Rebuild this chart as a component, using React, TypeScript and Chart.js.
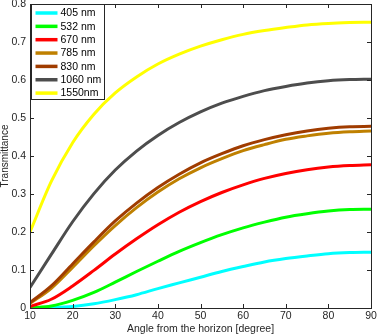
import React, { useEffect, useRef } from "react";
import { Chart, registerables } from "chart.js";

Chart.register(...registerables);

const angles = [10, 15, 20, 25, 30, 35, 40, 45, 50, 55, 60, 65, 70, 75, 80, 85, 90];

const labels405 = "405 nm";
const labels532 = "532 nm";
const labels670 = "670 nm";
const labels785 = "785 nm";
const labels830 = "830 nm";
const labels1060 = "1060 nm";
const labels1550 = "1550nm";

const t405 = [0.0, 0.001, 0.004, 0.011, 0.022, 0.035, 0.051, 0.066, 0.081, 0.096, 0.109, 0.121, 0.13, 0.137, 0.143, 0.146, 0.147];
const t532 = [0.0, 0.005, 0.02, 0.041, 0.068, 0.096, 0.123, 0.149, 0.172, 0.193, 0.211, 0.226, 0.239, 0.248, 0.255, 0.259, 0.26];
const t670 = [0.004, 0.023, 0.058, 0.099, 0.142, 0.182, 0.219, 0.252, 0.28, 0.304, 0.324, 0.341, 0.354, 0.364, 0.371, 0.375, 0.377];
const t785 = [0.012, 0.052, 0.107, 0.164, 0.217, 0.264, 0.305, 0.34, 0.369, 0.393, 0.414, 0.43, 0.444, 0.453, 0.46, 0.464, 0.466];
const t830 = [0.014, 0.058, 0.116, 0.174, 0.229, 0.276, 0.317, 0.352, 0.382, 0.406, 0.427, 0.443, 0.456, 0.466, 0.473, 0.477, 0.478];
const t1060 = [0.054, 0.141, 0.227, 0.301, 0.363, 0.413, 0.454, 0.488, 0.516, 0.539, 0.557, 0.572, 0.583, 0.592, 0.598, 0.601, 0.602];
const t1550 = [0.2, 0.333, 0.435, 0.51, 0.566, 0.608, 0.642, 0.668, 0.689, 0.706, 0.72, 0.73, 0.738, 0.745, 0.749, 0.751, 0.752];

const seriesLabels = [labels405, labels532, labels670, labels785, labels830, labels1060, labels1550];
const seriesValues = [t405, t532, t670, t785, t830, t1060, t1550];
const seriesColors = ["#00FFFF", "#00FF00", "#FF0000", "#BF8000", "#A03C00", "#4D4D4D", "#FFFF00"];

const xTicks = [10, 20, 30, 40, 50, 60, 70, 80, 90];
const yTicks = [0, 0.1, 0.2, 0.3, 0.4, 0.5, 0.6, 0.7, 0.8];

const FONT = '"Liberation Sans", Arial, Helvetica, sans-serif';
const AXIS_COLOR = "#262626";

const boxPlugin = {
  id: "matlabBox",
  afterDatasetsDraw(chart: any) {
    const { ctx, chartArea } = chart;
    const { left, right, top, bottom } = chartArea;
    const xs = chart.scales.x;
    const ys = chart.scales.y;
    ctx.save();
    ctx.strokeStyle = AXIS_COLOR;
    ctx.lineWidth = 1;
    ctx.beginPath();
    const tl = 4;
    xTicks.forEach((v) => {
      const px = Math.round(xs.getPixelForValue(v)) + 0.5;
      ctx.moveTo(px, bottom);
      ctx.lineTo(px, bottom - tl);
      ctx.moveTo(px, top);
      ctx.lineTo(px, top + tl);
    });
    yTicks.forEach((v) => {
      const py = Math.round(ys.getPixelForValue(v)) + 0.5;
      ctx.moveTo(left, py);
      ctx.lineTo(left + tl, py);
      ctx.moveTo(right, py);
      ctx.lineTo(right - tl, py);
    });
    ctx.stroke();
    ctx.strokeRect(Math.round(left) + 0.5, Math.round(top) + 0.5, Math.round(right - left), Math.round(bottom - top));

    // legend
    const lx = Math.round(left) + 1.5;
    const ly = Math.round(top) + 0.5;
    const lw = 73;
    const lh = 95;
    ctx.fillStyle = "#FFFFFF";
    ctx.fillRect(lx, ly, lw, lh);
    ctx.strokeStyle = AXIS_COLOR;
    ctx.strokeRect(lx, ly, lw, lh);
    ctx.font = `10.5px ${FONT}`;
    ctx.textBaseline = "middle";
    ctx.textAlign = "left";
    chart.data.datasets.forEach((ds: any, i: number) => {
      const cy = ly + 8.5 + i * 13.35;
      ctx.strokeStyle = ds.borderColor;
      ctx.lineWidth = 3.5;
      ctx.beginPath();
      ctx.moveTo(lx + 4, cy);
      ctx.lineTo(lx + 26, cy);
      ctx.stroke();
      ctx.fillStyle = "#000000";
      ctx.fillText(ds.label, lx + 29, cy + 0.5);
    });
    ctx.restore();
  },
};

export default function App() {
  const ref = useRef<HTMLCanvasElement | null>(null);
  useEffect(() => {
    document.body.style.margin = "0";
    const canvas = ref.current;
    if (!canvas) return;
    const n = seriesLabels.length;
    const chart = new Chart(canvas, {
      type: "line",
      data: {
        labels: angles,
        datasets: seriesLabels.map((label, i) => ({
          label,
          data: angles.map((a, j) => ({ x: a, y: seriesValues[i][j] })),
          borderColor: seriesColors[i],
          backgroundColor: seriesColors[i],
          borderWidth: 3,
          pointRadius: 0,
          cubicInterpolationMode: "monotone" as const,
          fill: false,
          order: n - i,
        })),
      },
      options: {
        responsive: false,
        animation: false,
        layout: { padding: { top: 4, right: 7, left: 0, bottom: 0 } },
        plugins: {
          legend: { display: false },
          tooltip: { enabled: false },
        },
        scales: {
          x: {
            type: "linear",
            min: 10,
            max: 90,
            grid: { display: false, drawTicks: false },
            border: { display: false },
            ticks: {
              stepSize: 10,
              padding: 2,
              color: "#262626",
              font: { family: FONT, size: 10.5 },
              maxRotation: 0,
            },
            title: {
              display: true,
              text: "Angle from the horizon [degree]",
              color: "#262626",
              font: { family: FONT, size: 10.5, lineHeight: 1.2 },
              padding: { top: 0, bottom: 0 },
            },
            afterFit(scale: any) {
              scale.height = 27;
              scale.paddingLeft = 0;
              scale.paddingRight = 0;
            },
          },
          y: {
            type: "linear",
            min: 0,
            max: 0.8,
            grid: { display: false, drawTicks: false },
            border: { display: false },
            ticks: {
              stepSize: 0.1,
              padding: 4,
              color: "#262626",
              font: { family: FONT, size: 10.5 },
              callback: (v: any) => (Number(v) === 0 ? "0" : Number(v).toFixed(1)),
            },
            title: {
              display: true,
              text: "Transmittance",
              color: "#262626",
              font: { family: FONT, size: 10, lineHeight: 1 },
              padding: { top: 0, bottom: 0 },
            },
            afterFit(scale: any) {
              scale.width = 30;
              scale.paddingTop = 0;
              scale.paddingBottom = 0;
            },
          },
        },
      },
      plugins: [boxPlugin],
    });
    return () => chart.destroy();
  }, []);
  return (
    <div style={{ width: 378, height: 335 }}>
      <canvas ref={ref} width={378} height={335} style={{ display: "block" }} />
    </div>
  );
}
